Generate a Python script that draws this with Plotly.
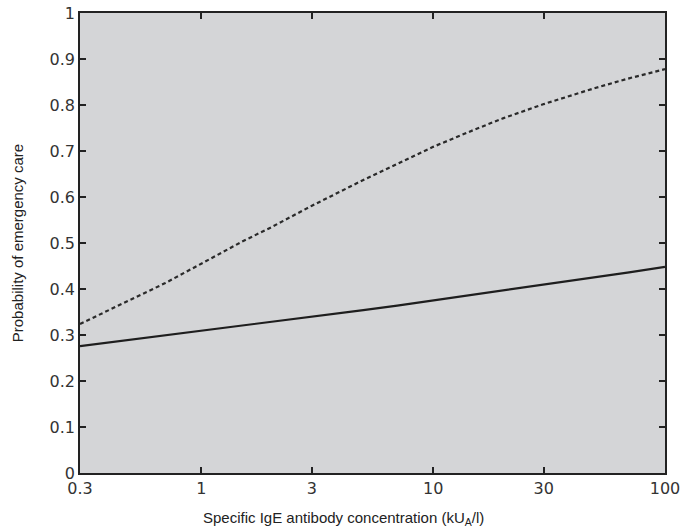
import plotly.graph_objects as go
import math

conc = [0.3, 0.4, 0.5, 0.7, 1, 1.5, 2, 3, 5, 7, 10, 15, 20, 30, 50, 70, 100]
prob_dashed = [0.324, 0.354, 0.377, 0.413, 0.455, 0.503, 0.534, 0.581, 0.637, 0.672,
               0.709, 0.746, 0.771, 0.802, 0.837, 0.858, 0.878]
prob_solid = [0.276, 0.284, 0.290, 0.299, 0.308, 0.320, 0.328, 0.339, 0.354, 0.364,
              0.375, 0.388, 0.397, 0.409, 0.425, 0.436, 0.448]

x_tickvals = [0.3, 1, 3, 10, 30, 100]
x_ticktext = ["0.3", "1", "3", "10", "30", "100"]

fig = go.Figure()
fig.add_trace(go.Scatter(x=conc, y=prob_dashed, mode="lines",
                         line=dict(color="#2a2a2a", width=2.2, dash="4px,3px"),
                         showlegend=False))
fig.add_trace(go.Scatter(x=conc, y=prob_solid, mode="lines",
                         line=dict(color="#1e1e1e", width=2.2),
                         showlegend=False))

axis_font = dict(family="DejaVu Sans", size=16, color="#333")
title_font = dict(family="Liberation Sans", size=15, color="#222")
fig.update_layout(
    width=686, height=532,
    margin=dict(l=80, r=21, t=13, b=59),
    paper_bgcolor="white",
    plot_bgcolor="#d4d5d7",
    xaxis=dict(
        type="log", range=[math.log10(0.3), math.log10(100)],
        tickvals=x_tickvals, ticktext=x_ticktext,
        ticks="inside", ticklen=6, tickwidth=1.5, tickcolor="#222",
        showline=True, linecolor="#222", linewidth=1.6, mirror="ticks",
        showgrid=False, zeroline=False, tickfont=axis_font,
        automargin=False,
    ),
    yaxis=dict(
        range=[0, 1], dtick=0.1, tick0=0,
        ticks="inside", ticklen=6, tickwidth=1.5, tickcolor="#222",
        showline=True, linecolor="#222", linewidth=1.6, mirror="ticks",
        showgrid=False, zeroline=False, tickfont=axis_font,
        title=dict(text="Probability of emergency care", font=title_font,
                   standoff=22),
        automargin=False,
    ),
    annotations=[dict(
        text="Specific IgE antibody concentration (kU<sub>A</sub>/l)",
        xref="paper", yref="paper", x=(343 - 80) / 585, y=-0.098,
        xanchor="center", yanchor="middle", showarrow=False, font=title_font,
    )],
)

fig.write_html("out.html")
